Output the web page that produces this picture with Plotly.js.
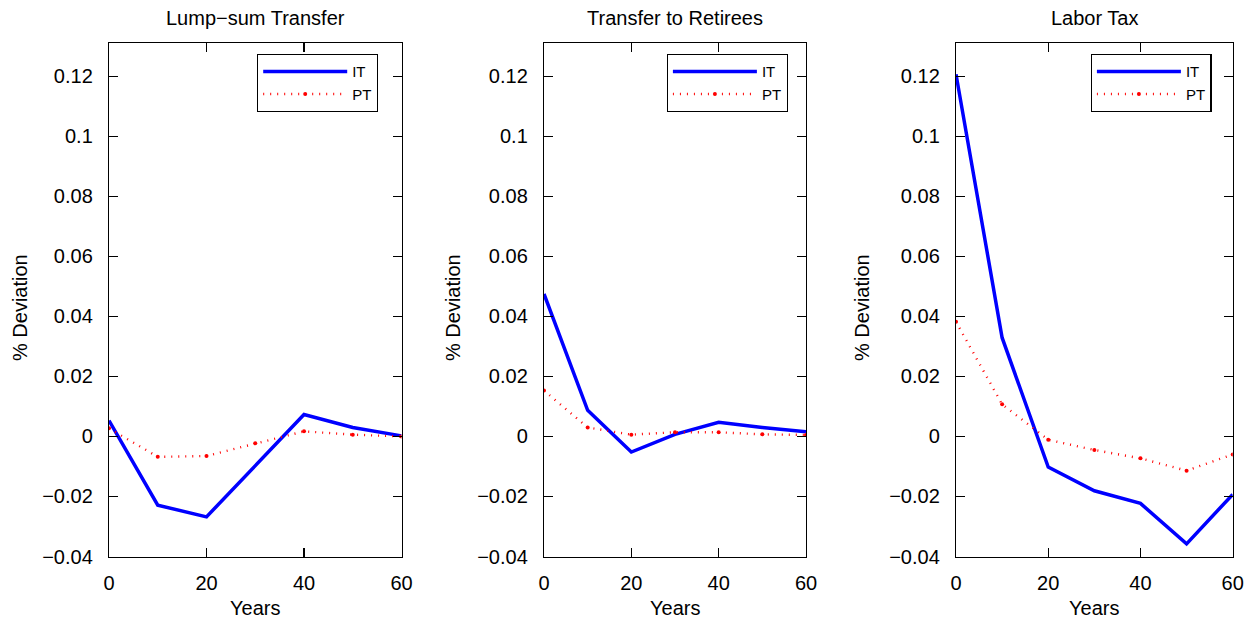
<!DOCTYPE html>
<html>
<head>
<meta charset="utf-8">
<script src="https://cdn.plot.ly/plotly-3.0.1.min.js"></script>
<style>
html,body{margin:0;padding:0;background:#fff;}
#chart{width:1255px;height:625px;}
</style>
</head>
<body>
<div id="chart"></div>
<script>
// ---- data ----
const years = [0, 10, 20, 30, 40, 50, 60];
const lumpIT = [0.0053, -0.0229, -0.0268, -0.0098, 0.0073, 0.0030, 0.0002];
const lumpPT = [0.0027, -0.0068, -0.0065, -0.0023, 0.0017, 0.0006, 0.0000];
const retireIT = [0.0475, 0.0087, -0.0052, 0.0007, 0.0047, 0.0030, 0.0016];
const retirePT = [0.0153, 0.0030, 0.0006, 0.0014, 0.0014, 0.0007, 0.0005];
const laborIT = [0.1207, 0.0329, -0.0102, -0.0181, -0.0223, -0.0358, -0.0193];
const laborPT = [0.0382, 0.0107, -0.0011, -0.0045, -0.0073, -0.0114, -0.0060];
const panelTitles = ['Lump\u2212sum Transfer', 'Transfer to Retirees', 'Labor Tax'];
const seriesNames = ['IT', 'PT'];
const xTickVals = [0, 20, 40, 60];
const yTickVals = [-0.04, -0.02, 0, 0.02, 0.04, 0.06, 0.08, 0.1, 0.12];
const yTickText = ['\u22120.04', '\u22120.02', '0', '0.02', '0.04', '0.06', '0.08', '0.1', '0.12'];
const xTitle = 'Years';
const yTitle = '% Deviation';

// ---- layout helpers ----
const W = 1255, H = 625;
const FONT = '"Liberation Sans", Arial, Helvetica, sans-serif';
const xDomainsPx = [[109, 401.5], [544, 806], [956, 1232.7]];
const yDomain = [1 - 556.5 / H, 1 - 43.3 / H];
const legendRightPx = [378, 787.7, 1211.7];
const yTitleXPx = [20, 453, 862];
const itSeries = [lumpIT, retireIT, laborIT];
const ptSeries = [lumpPT, retirePT, laborPT];

const traces = [];
const layout = {
  width: W, height: H,
  margin: {l: 0, r: 0, t: 0, b: 0},
  paper_bgcolor: '#fff', plot_bgcolor: '#fff',
  font: {family: FONT, color: '#000', size: 20},
  annotations: [],
  showlegend: true
};

for (let i = 0; i < 3; i++) {
  const sfx = i === 0 ? '' : String(i + 1);
  const legendId = 'legend' + sfx;
  traces.push({
    x: years, y: itSeries[i], name: seriesNames[0],
    xaxis: 'x' + sfx, yaxis: 'y' + sfx, legend: legendId,
    mode: 'lines', line: {color: '#0000ff', width: 3.5},
    hoverinfo: 'x+y'
  });
  traces.push({
    x: years, y: ptSeries[i], name: seriesNames[1],
    xaxis: 'x' + sfx, yaxis: 'y' + sfx, legend: legendId,
    mode: 'lines+markers',
    line: {color: '#ff0000', width: 2.4, dash: '1px,6px'},
    marker: {color: '#ff0000', size: 4},
    hoverinfo: 'x+y'
  });
  const dom = [xDomainsPx[i][0] / W, xDomainsPx[i][1] / W];
  const axCommon = {
    showline: true, linecolor: '#000', linewidth: 1.2, mirror: 'ticks',
    ticks: 'inside', ticklen: 9, tickwidth: 1.1, tickcolor: '#000',
    showgrid: false, zeroline: false,
    tickfont: {family: FONT, size: 20, color: '#000'},
    fixedrange: true
  };
  layout['xaxis' + sfx] = Object.assign({}, axCommon, {
    domain: dom, anchor: 'y' + sfx, range: [0, 60],
    tickvals: xTickVals, ticktext: xTickVals.map(String),
    ticklabelstandoff: 8
  });
  layout['yaxis' + sfx] = Object.assign({}, axCommon, {
    domain: yDomain, anchor: 'x' + sfx, range: [-0.04, 0.131],
    tickvals: yTickVals, ticktext: yTickText,
    ticklabelstandoff: 11
  });
  layout[legendId] = {
    x: legendRightPx[i] / W, y: 1 - 54 / H, xanchor: 'right', yanchor: 'top',
    xref: 'paper', yref: 'paper',
    bgcolor: '#fff', bordercolor: '#000', borderwidth: 1.2,
    font: {family: FONT, size: 15, color: '#000'},
    itemwidth: 84, tracegroupgap: 0
  };
  const cx = (dom[0] + dom[1]) / 2;
  layout.annotations.push({
    text: panelTitles[i], xref: 'paper', yref: 'paper', x: cx, y: 1 - 18 / H,
    xanchor: 'center', yanchor: 'middle', showarrow: false,
    font: {family: FONT, size: 20, color: '#000'}
  });
  layout.annotations.push({
    text: xTitle, xref: 'paper', yref: 'paper', x: cx, y: 1 - 608 / H,
    xanchor: 'center', yanchor: 'middle', showarrow: false,
    font: {family: FONT, size: 20, color: '#000'}
  });
  layout.annotations.push({
    text: yTitle, xref: 'paper', yref: 'paper', x: yTitleXPx[i] / W, y: 1 - 308 / H,
    xanchor: 'center', yanchor: 'middle', showarrow: false, textangle: -90,
    font: {family: FONT, size: 20, color: '#000'}
  });
}

Plotly.newPlot('chart', traces, layout, {displayModeBar: false, staticPlot: true});
</script>
</body>
</html>
